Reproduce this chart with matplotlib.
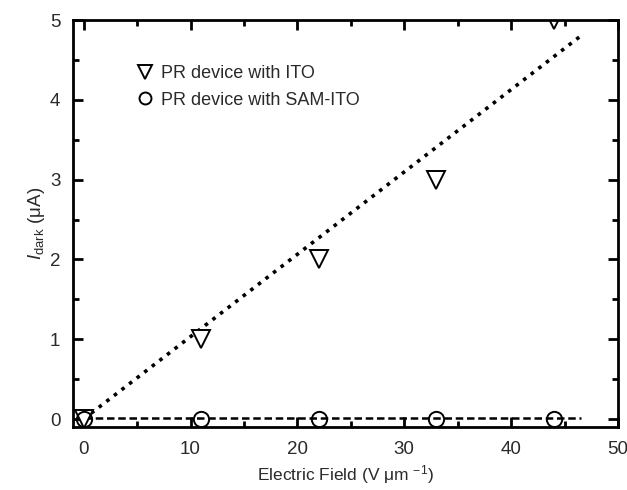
import matplotlib
matplotlib.use("Agg")
import matplotlib.pyplot as plt
from matplotlib.ticker import MultipleLocator

plt.rcParams['font.family'] = ['Liberation Sans', 'DejaVu Sans']
plt.rcParams['mathtext.fontset'] = 'custom'
plt.rcParams['mathtext.rm'] = 'Liberation Sans'
plt.rcParams['mathtext.it'] = 'Liberation Sans:italic'

# data
field = [0, 11, 22, 33, 44]
ito_current = [0, 1, 2, 3, 5]
sam_current = [0, 0, 0, 0, 0]
fit_field = [0, 46.5]
ito_fit = [0, 4.8]
sam_fit = [0.01, 0.01]

text_color = '#2a2a2a'

fig = plt.figure(figsize=(6.27, 4.9), dpi=100)
ax = fig.add_axes([0.1164, 0.1286, 0.8692, 0.8304])

ax.plot(fit_field, ito_fit, color='black', ls=':', lw=2.6)
ax.plot(fit_field, sam_fit, color='black', ls='--', lw=1.8, dashes=(3, 1.5))
ax.plot(field, ito_current, ls='none', marker='v', ms=13, mfc='white',
        mec='black', mew=1.4, label='PR device with ITO')
ax.plot(field, sam_current, ls='none', marker='o', ms=11, mfc='none',
        mec='black', mew=1.4, label='PR device with SAM-ITO')

ax.set_xlim(-1, 50)
ax.set_ylim(-0.1, 5)
ax.xaxis.set_major_locator(MultipleLocator(10))
ax.xaxis.set_minor_locator(MultipleLocator(5))
ax.yaxis.set_major_locator(MultipleLocator(1))
ax.yaxis.set_minor_locator(MultipleLocator(0.5))
ax.tick_params(which='both', direction='in', top=True, right=True,
               labelsize=13.5, width=2, labelcolor=text_color)
ax.tick_params(axis='x', pad=10)
ax.tick_params(axis='y', pad=9)
ax.tick_params(which='major', length=7)
ax.tick_params(which='minor', length=4)
for sp in ax.spines.values():
    sp.set_linewidth(2)

ax.set_xlabel(r'Electric Field (V $\mathrm{\mu}$m $^{-1}$)', fontsize=12.5,
              color=text_color, labelpad=4)
ax.set_ylabel(r'$I_{\mathrm{dark}}$ ($\mathrm{\mu}$A)', fontsize=13.5,
              color=text_color, labelpad=2)

leg = ax.legend(loc='upper left', bbox_to_anchor=(0.085, 0.93), frameon=False,
                fontsize=13, handletextpad=0.4, handlelength=1.0,
                labelspacing=0.55, markerscale=0.78)
for t in leg.get_texts():
    t.set_color(text_color)

fig.savefig('out.png', dpi=100)
